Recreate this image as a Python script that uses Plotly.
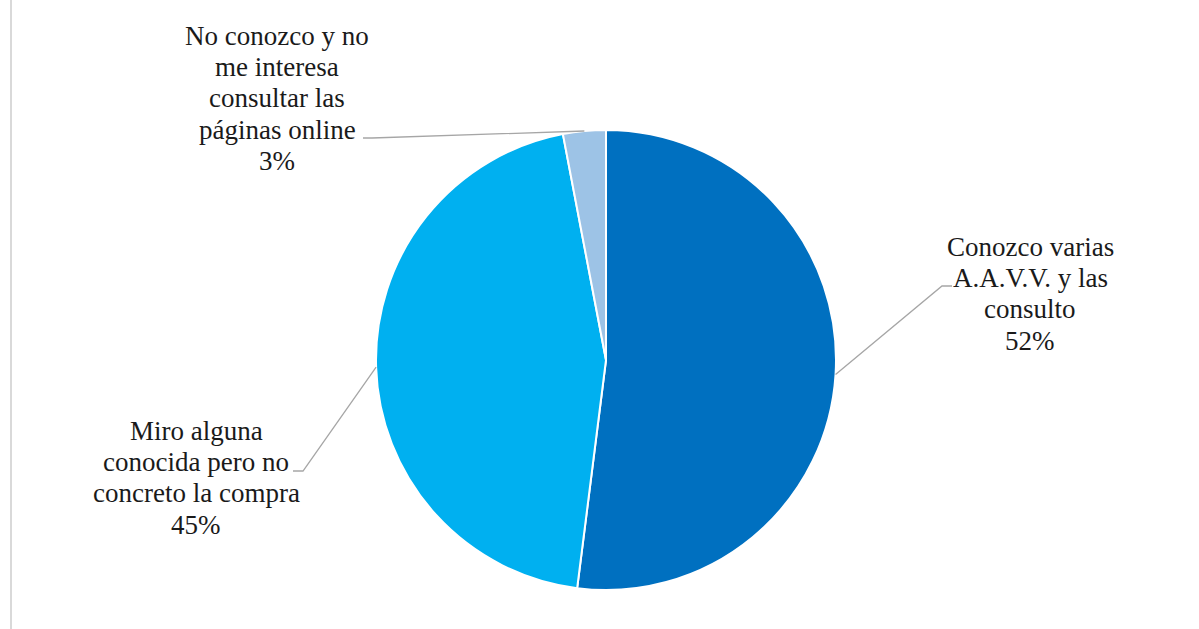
import math
import plotly.graph_objects as go

# ---- data ----
categories = [
    "Conozco varias<br>A.A.V.V. y las<br>consulto",
    "Miro alguna<br>conocida pero no<br>concreto la compra",
    "No conozco y no<br>me interesa<br>consultar las<br>páginas online",
]
values = [52, 45, 3]
colors = ["#0070C0", "#00B0F0", "#9DC3E6"]

# ---- layout constants (pixels) ----
W, H = 1199, 629
CX, CY, R = 606, 360, 230
FS = 27
LINE_GAP = 31.2
# label centre x and first baseline y, elbow point, horizontal end
label_pos = [(1030, 256), (196, 440), (277, 45)]
elbows = [((942, 286), (952, 286)), ((303, 471), (293, 471)), ((372, 138), (363, 138))]


def px(x):
    return x / W


def py(y):
    return 1 - y / H


fig = go.Figure()
fig.add_trace(go.Pie(
    labels=[c.replace("<br>", " ") for c in categories],
    values=values,
    sort=False,
    direction="clockwise",
    rotation=0,
    marker=dict(colors=colors, line=dict(color="white", width=2)),
    textinfo="none",
    hoverinfo="label+percent",
    showlegend=False,
    domain=dict(x=[px(CX - R), px(CX + R)], y=[py(CY + R), py(CY - R)]),
))

total = sum(values)
cum = 0
annotations = []
shapes = []
for i, v in enumerate(values):
    mid = (cum + v / 2) / total * 2 * math.pi
    cum += v
    sx = CX + R * math.sin(mid)
    sy = CY - R * math.cos(mid)
    (ex, ey), (hx, hy) = elbows[i]
    pct = round(v / total * 100)
    shapes.append(dict(type="path", xref="paper", yref="paper",
                       path=f"M {px(sx)},{py(sy)} L {px(ex)},{py(ey)} L {px(hx)},{py(hy)}",
                       line=dict(color="#A6A6A6", width=1.3)))
    lines = categories[i].split("<br>") + [f"{pct}%"]
    lx, by = label_pos[i]
    for j, t in enumerate(lines):
        base = by + j * LINE_GAP
        annotations.append(dict(
            x=px(lx), y=py(base - 0.33 * FS), xref="paper", yref="paper",
            text=t, showarrow=False, xanchor="center", yanchor="middle",
            font=dict(family="Liberation Serif", size=FS, color="#1a1a1a"),
        ))

# left border line
shapes.append(dict(type="line", xref="paper", yref="paper",
                   x0=px(11), x1=px(11), y0=0, y1=1,
                   line=dict(color="#D9D9D9", width=2)))

fig.update_layout(
    width=W, height=H,
    margin=dict(l=0, r=0, t=0, b=0),
    paper_bgcolor="white",
    plot_bgcolor="white",
    annotations=annotations,
    shapes=shapes,
)

fig.write_html("out.html")
